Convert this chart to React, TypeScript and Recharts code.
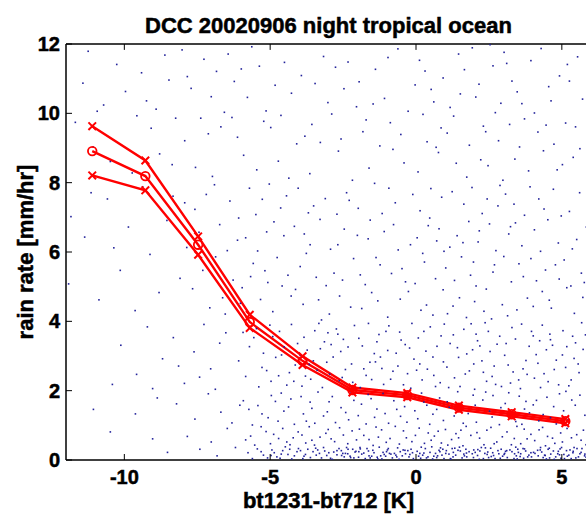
import React from "react"
import { ComposedChart, Scatter, Line, XAxis, YAxis, Label, ReferenceLine } from "recharts"

// bin centres of the three rain-rate curves
const binX = [-11.1, -9.28, -7.47, -5.7, -3.89, -2.18, -0.3, 1.47, 3.28, 5.12]
const upperRate = [9.63, 8.64, 6.45, 4.19, 2.99, 2.09, 1.93, 1.57, 1.38, 1.18]
const meanRate = [8.91, 8.19, 6.21, 3.98, 2.86, 2.02, 1.87, 1.51, 1.32, 1.12]
const lowerRate = [8.21, 7.78, 5.92, 3.81, 2.74, 1.95, 1.81, 1.45, 1.26, 1.06]

const xTicks = [-10, -5, 0, 5]
const yTicks = [0, 2, 4, 6, 8, 10, 12]

// scattered pixels, read roughly band by band (rain rate 8-12, 4-8, 2-4, 0-2)
const dotsHigh = [
  [-11.42, 10.87], [-3.17, 11.64], [2.83, 9.21], [-7.56, 8.44], [0.61, 10.33], [4.92, 11.08], [-9.08, 9.57], [-5.63, 11.92],
  [1.74, 8.16], [-0.88, 9.73], [3.47, 10.62], [-10.26, 11.41], [-6.31, 9.88], [5.39, 8.73], [-2.04, 10.19], [-8.47, 10.96],
  [0.12, 11.53], [2.16, 10.84], [-4.72, 8.62], [-1.39, 11.27], [4.18, 9.46], [-11.07, 9.03], [-7.02, 10.48], [1.29, 9.92],
  [-3.81, 9.34], [5.71, 10.41], [-9.73, 8.28], [-5.14, 10.07], [3.02, 11.76], [-0.41, 8.57], [-8.02, 11.83], [2.47, 8.49],
  [-2.66, 8.91], [4.55, 10.77], [-6.84, 11.21], [0.93, 11.02], [-4.27, 10.58], [-10.71, 10.24], [3.86, 8.34], [-1.82, 9.47],
  [5.13, 9.72], [-7.93, 9.21], [-0.03, 10.82], [2.64, 11.37], [-5.91, 8.79], [1.52, 10.56], [-3.46, 10.86], [4.37, 8.92],
  [-9.41, 11.17], [-2.33, 11.48], [0.38, 9.18], [-6.57, 10.03], [3.21, 9.68], [-8.79, 8.83], [5.54, 11.63], [-1.08, 10.43],
  [1.93, 11.89], [-4.98, 9.59], [-11.68, 9.74], [2.98, 8.07], [-7.27, 11.56], [0.77, 8.87], [-3.64, 8.26], [4.73, 9.11],
  [-5.37, 11.36], [-0.62, 11.86], [2.31, 9.63], [-9.96, 10.63], [-2.89, 9.98], [3.63, 10.28], [-6.12, 9.31], [1.07, 9.43],
  [-8.24, 9.86], [5.88, 9.34], [-4.51, 11.47], [-1.61, 8.42], [0.24, 9.97], [3.94, 11.52], [-10.48, 8.61], [-7.71, 10.72],
  [2.05, 10.47], [-3.02, 10.31], [4.06, 10.01], [-5.78, 10.46], [-0.27, 10.06], [1.38, 8.56], [-2.47, 10.71], [5.26, 10.93],
  [-6.98, 8.18], [-9.24, 10.36], [3.39, 8.68], [-1.24, 9.06], [0.52, 10.69], [-4.09, 9.12], [2.72, 10.02], [-8.61, 11.68],
  [4.84, 8.37], [-3.93, 11.09], [1.66, 11.26], [-5.46, 8.37], [-0.79, 8.96], [3.11, 11.44], [-6.69, 9.61], [5.02, 8.52],
  [-2.18, 8.07], [0.07, 8.31], [2.54, 11.98], [-7.38, 9.86], [-4.36, 8.13], [4.29, 11.87], [-1.95, 10.91], [1.17, 10.17],
  [-10.93, 10.06], [-3.28, 9.16], [3.72, 9.84], [-8.36, 8.52], [5.62, 8.98], [-0.52, 9.39], [2.22, 8.66], [-5.22, 9.77],
  [-6.44, 11.71], [0.86, 9.58], [-2.76, 11.33], [4.46, 9.66], [-9.57, 9.93], [1.83, 9.08], [-4.83, 10.81], [3.55, 9.03],
  [-1.47, 10.27], [5.47, 9.61], [-7.12, 9.41], [0.31, 11.22], [-3.57, 9.68], [2.91, 10.29], [-5.99, 11.28], [-8.91, 10.12],
  [4.63, 10.36], [-0.96, 11.61], [1.46, 11.71], [-2.57, 9.26], [3.29, 10.93], [-6.23, 10.92], [5.19, 11.41], [-11.24, 11.79],
  [-4.63, 9.94], [0.69, 9.02], [2.39, 9.47], [-1.71, 9.81], [-7.84, 11.06],
]

const dotsMid = [
  [-11.83, 7.02], [-11.91, 5.08], [-11.36, 6.43], [-10.87, 4.62], [-10.58, 7.53], [-10.14, 5.47], [-9.86, 6.72], [-9.63, 4.31],
  [-9.37, 7.88], [-9.12, 5.93], [-8.81, 4.83], [-8.54, 6.91], [-8.33, 7.61], [-8.09, 5.24], [-10.36, 6.12], [-11.14, 7.71],
  [-7.86, 6.13], [-3.42, 5.27], [1.64, 7.38], [4.57, 4.61], [-5.71, 7.84], [0.23, 5.96], [-1.86, 4.37], [3.18, 6.52],
  [-6.63, 4.68], [2.41, 4.93], [-4.17, 6.74], [5.26, 7.17], [-0.71, 7.42], [-2.93, 6.08], [1.08, 4.22], [3.94, 5.81],
  [-7.31, 5.47], [-5.08, 5.12], [0.79, 6.67], [-1.23, 5.63], [4.21, 7.53], [2.88, 7.92], [-3.87, 4.49], [-6.12, 6.34],
  [5.67, 5.39], [-0.26, 4.86], [1.97, 5.71], [-4.64, 7.27], [3.46, 4.33], [-2.38, 7.71], [-7.58, 7.23], [0.51, 7.83],
  [4.88, 6.26], [-5.43, 6.03], [-1.57, 6.92], [2.13, 6.29], [-3.11, 7.54], [5.43, 4.23], [-6.87, 5.86], [1.32, 5.18],
  [-4.39, 5.33], [3.72, 7.06], [-0.97, 4.12], [-2.62, 4.73], [4.44, 5.48], [0.04, 6.41], [-5.96, 4.97], [2.64, 5.42],
  [-3.63, 6.21], [1.81, 6.88], [-7.07, 4.39], [5.84, 6.72], [-1.42, 7.98], [3.27, 5.14], [-4.91, 4.28], [0.36, 4.47],
  [-2.14, 5.81], [4.06, 6.64], [-6.38, 7.47], [2.27, 7.11], [-3.24, 4.04], [-0.48, 5.52], [5.08, 5.77], [1.49, 4.68],
  [-5.27, 7.52], [3.63, 6.18], [-1.74, 5.06], [-4.04, 7.84], [0.67, 5.23], [2.96, 4.48], [-6.73, 6.79], [4.71, 7.81],
  [-2.81, 5.39], [1.16, 6.14], [-0.11, 7.66], [3.07, 7.67], [-5.58, 5.67], [-3.76, 5.96], [5.51, 6.36], [-1.09, 6.59],
  [2.52, 6.81], [-7.44, 6.57], [0.93, 4.91], [-4.53, 6.47], [4.33, 4.86], [-2.46, 6.66], [1.73, 4.11], [-6.27, 5.19],
  [3.82, 4.67], [-0.61, 6.06], [5.72, 4.69], [-3.29, 6.94], [2.06, 5.02], [-5.12, 6.58], [0.14, 7.19], [-1.98, 7.26],
  [4.52, 6.93], [-4.28, 4.73], [1.41, 6.47], [-6.54, 4.21], [3.36, 7.38], [-2.24, 4.41], [5.17, 4.97], [-0.36, 5.14],
  [2.74, 6.04], [-3.97, 5.58], [0.88, 7.58], [-5.84, 6.41], [4.13, 5.17], [-1.31, 4.59], [1.92, 7.86], [-7.19, 7.66],
  [3.53, 5.66], [-2.71, 7.09], [5.36, 6.09], [-0.84, 5.38], [-4.76, 5.84], [2.33, 4.29], [0.47, 6.98], [-3.51, 7.33],
  [4.91, 5.22], [-6.02, 4.52], [1.24, 7.74], [-1.64, 6.38], [3.01, 5.87], [-5.33, 4.63], [5.93, 7.49], [-2.01, 6.48],
  [0.58, 4.18], [-4.44, 7.62], [2.81, 7.33], [-0.19, 6.21], [4.64, 4.38], [-3.08, 5.03], [1.56, 5.86], [-6.91, 7.94],
  [3.91, 7.88], [-1.16, 7.11], [-5.67, 5.29], [2.17, 6.61], [-2.52, 5.19], [0.29, 5.71], [4.27, 6.02], [-3.83, 6.52],
  [1.02, 5.54], [-7.66, 4.94], [5.61, 7.71], [-0.54, 4.64], [2.59, 4.07], [-4.13, 4.92], [3.41, 6.84], [-1.91, 5.34],
  [0.71, 6.32], [-5.49, 7.08], [4.78, 5.63], [-2.97, 4.21], [1.87, 5.33], [-6.47, 6.04], [3.14, 4.16], [-0.77, 6.79],
  [5.31, 5.02], [-3.34, 4.62], [2.44, 7.53], [-4.87, 6.87], [0.96, 6.02], [-1.52, 4.83], [4.02, 4.43], [-5.18, 5.46],
  [1.27, 4.44], [3.68, 5.29], [-2.29, 7.49], [0.17, 4.32], [-6.08, 6.98], [4.98, 7.04], [-3.69, 7.13], [2.69, 5.63],
  [-0.93, 7.84], [5.77, 5.12], [-4.59, 5.02], [1.61, 6.27], [-7.93, 7.42], [3.24, 6.73], [-1.37, 5.84], [0.42, 6.76],
  [-5.03, 7.96], [2.01, 4.57], [4.39, 7.24], [-2.68, 6.21], [-0.03, 5.09],
]

const dotsLow = [
  [-10.12, 3.31], [-9.58, 2.47], [-9.21, 3.84], [-8.69, 2.92], [-8.32, 3.53], [-7.94, 2.21], [-7.61, 3.12], [-7.27, 3.91],
  [-7.04, 2.63], [-6.73, 3.37], [-10.41, 2.18], [-9.03, 2.06], [-8.14, 2.71], [-7.42, 2.39], [-6.88, 2.04], [-6.52, 3.67],
  [-5.84, 2.41], [-1.27, 3.62], [2.73, 2.18], [4.61, 3.47], [-3.52, 2.86], [0.34, 3.14], [-4.68, 3.71], [1.83, 2.57],
  [5.42, 2.93], [-2.17, 2.24], [3.29, 3.82], [-0.62, 2.71], [-5.23, 3.08], [2.11, 3.44], [-3.91, 2.13], [4.06, 2.36],
  [0.97, 3.92], [-1.84, 3.29], [5.81, 3.61], [-4.34, 2.52], [1.46, 2.96], [-2.73, 3.78], [3.67, 2.63], [-0.18, 2.07],
  [-5.56, 3.53], [2.48, 3.71], [-3.14, 3.41], [4.89, 2.17], [0.61, 2.44], [-1.58, 2.82], [3.04, 3.02], [-4.97, 2.27],
  [1.17, 3.36], [-2.42, 2.61], [5.17, 3.27], [-0.93, 3.87], [-3.73, 3.17], [2.26, 2.86], [4.33, 3.89], [-6.08, 2.86],
  [0.08, 3.52], [-1.11, 2.18], [3.52, 2.31], [-4.52, 3.26], [1.64, 3.77], [-2.96, 2.48], [5.59, 2.52], [-0.37, 3.33],
  [2.87, 3.57], [-5.39, 2.11], [-3.33, 3.94], [4.18, 2.79], [0.83, 2.23], [-1.96, 3.51], [3.88, 3.28], [-4.14, 2.74],
  [1.32, 2.37], [-2.58, 3.13], [5.04, 3.73], [-0.79, 2.56], [2.01, 2.04], [-3.61, 2.33], [4.74, 2.61], [0.49, 3.84],
  [-1.43, 3.07], [3.16, 2.74], [-5.01, 3.89], [1.94, 3.18], [-2.28, 2.03], [5.32, 2.31], [-0.07, 2.91], [-4.81, 2.96],
  [2.61, 2.41], [-3.02, 3.67], [4.47, 3.18], [0.21, 2.31], [-1.71, 2.44], [3.41, 3.49], [-5.71, 3.27], [1.06, 2.68],
  [-2.84, 2.97], [5.68, 3.96], [-0.51, 3.46], [2.37, 3.96], [-3.84, 3.54], [4.27, 2.09], [0.72, 3.28], [-1.03, 3.71],
  [3.77, 2.87], [-4.27, 3.91], [1.51, 2.12], [-2.11, 3.88], [5.13, 2.67], [-0.29, 2.49], [-5.28, 2.67], [2.93, 2.12],
  [-3.39, 2.59], [4.59, 3.63], [0.39, 2.62], [-1.63, 3.94], [3.09, 3.36], [-4.71, 2.43], [1.74, 3.06], [-2.49, 3.48],
  [5.47, 3.38], [-0.87, 2.33], [2.19, 3.29], [-3.97, 3.02], [4.02, 3.58], [0.94, 2.83], [-1.22, 2.97], [3.58, 2.06],
  [-4.43, 2.16], [1.28, 3.61], [-2.63, 2.29], [5.89, 2.44], [-0.14, 3.94], [-5.47, 3.79], [2.54, 3.13], [-3.21, 2.09],
  [4.81, 2.88], [0.58, 2.97], [-1.79, 2.63], [3.33, 2.54], [-4.06, 3.36], [1.98, 2.77], [-2.33, 3.26], [5.24, 2.14],
  [-0.68, 3.08], [2.78, 3.34], [-3.66, 2.76], [4.39, 2.49], [0.13, 2.77], [-1.34, 3.41], [3.96, 3.71], [-5.12, 2.58],
  [1.42, 3.24], [-2.91, 3.33], [5.56, 2.77], [-0.43, 2.17], [2.31, 2.53], [-3.47, 3.73], [4.12, 3.04], [0.86, 3.58],
  [-1.91, 2.09], [3.62, 3.92], [-4.61, 3.03], [1.12, 2.09], [-2.21, 2.77], [5.02, 3.03], [-0.97, 3.16], [2.68, 2.71],
  [-3.79, 2.42], [4.68, 3.31], [0.27, 3.71], [-1.52, 2.32], [3.24, 2.22], [-4.91, 3.56], [1.69, 2.48], [-2.68, 3.63],
  [5.73, 3.19], [-0.22, 3.23], [2.06, 3.63], [-3.06, 2.82], [4.24, 3.44], [0.67, 2.12], [-1.17, 2.64], [3.81, 2.47],
  [-4.19, 2.27], [1.89, 3.93], [-2.53, 2.38], [5.37, 3.57], [-0.56, 3.69], [-5.93, 3.68], [2.42, 2.27], [-3.28, 3.21],
  [4.53, 2.26], [0.02, 2.59], [-1.39, 2.83],
]

const dotsBase = [
  [-8.21, 1.62], [-7.58, 1.18], [-7.12, 1.91], [-6.69, 1.38], [-6.31, 1.07], [-7.84, 0.68], [-7.02, 0.52], [-6.47, 0.91],
  [-9.03, 0.61], [-8.52, 0.22], [-7.41, 0.31], [-6.82, 0.12], [-6.19, 0.36], [-9.62, 1.33], [-10.48, 0.81], [-8.87, 1.79],
  [-11.06, 1.46], [-6.04, 1.58],
  [-5.92, 1.71], [-1.42, 1.23], [2.64, 1.86], [4.81, 1.04], [-3.57, 1.49], [0.27, 1.67], [-4.73, 1.12], [1.79, 1.34],
  [5.46, 1.58], [-2.22, 1.94], [3.31, 1.21], [-0.66, 1.46], [-5.28, 1.33], [2.07, 1.09], [-3.94, 1.83], [4.13, 1.72],
  [0.94, 1.14], [-1.87, 1.61], [5.79, 1.29], [-4.37, 1.53], [1.43, 1.97], [-2.76, 1.08], [3.72, 1.47], [-0.21, 1.88],
  [-5.61, 1.01], [2.52, 1.41], [-3.17, 1.27], [4.92, 1.91], [0.58, 1.32], [-1.54, 1.77], [3.06, 1.63], [-4.96, 1.86],
  [1.14, 1.52], [-2.41, 1.37], [5.21, 1.16], [-0.94, 1.06], [-3.76, 1.12], [2.29, 1.73], [4.36, 1.31], [0.06, 1.19],
  [-1.13, 1.92], [3.54, 1.84], [-4.53, 1.41], [1.62, 1.06], [-2.98, 1.68], [5.62, 1.87], [-0.39, 1.54], [2.86, 1.02],
  [-5.42, 1.57], [-3.36, 1.96], [4.21, 1.13], [0.81, 1.79], [-1.98, 1.28], [3.89, 1.36], [-4.17, 1.03], [1.31, 1.27],
  [-2.57, 1.51], [5.06, 1.42], [-0.76, 1.71], [2.03, 1.58], [-3.63, 1.67], [4.72, 1.54], [0.47, 1.03], [-1.34, 1.47],
  [3.18, 1.94], [-5.07, 1.22], [1.96, 1.87], [-2.31, 1.16], [5.34, 1.73], [-0.04, 1.42], [-4.82, 1.69], [2.61, 1.24],
  [-3.04, 1.39], [4.49, 1.81], [0.19, 1.93], [-1.71, 1.04], [3.42, 1.11], [-5.73, 1.46], [1.07, 1.68], [-2.87, 1.83],
  [5.87, 1.61], [-0.53, 1.26], [2.39, 1.96], [-3.86, 1.33], [4.02, 1.59], [0.71, 1.46], [-1.06, 1.34], [3.77, 1.69],
  [-4.29, 1.76], [1.51, 1.62], [-2.13, 1.72], [5.14, 1.98], [-0.31, 1.09], [-3.47, 1.06], [2.91, 1.51], [4.61, 1.22],
  [0.37, 1.58], [-1.64, 1.89], [3.63, 1.03], [-4.62, 1.93],
  [-5.53, 0.43], [-1.18, 0.87], [2.77, 0.52], [4.34, 0.94], [-3.29, 0.66], [0.42, 0.78], [-4.57, 0.91], [1.61, 0.41],
  [5.51, 0.73], [-2.04, 0.58], [3.46, 0.97], [-0.57, 0.46], [-5.14, 0.82], [2.18, 0.63], [-3.78, 0.49], [4.07, 0.56],
  [1.01, 0.88], [-1.79, 0.71], [5.83, 0.44], [-4.21, 0.64], [1.37, 0.76], [-2.62, 0.93], [3.81, 0.61], [-0.14, 0.53],
  [-5.84, 0.58], [2.43, 0.86], [-3.09, 0.77], [4.76, 0.48], [0.63, 0.69], [-1.47, 0.42], [3.12, 0.81], [-4.88, 0.74],
  [1.22, 0.59], [-2.34, 0.47], [5.18, 0.91], [-0.89, 0.62], [-3.66, 0.96], [2.33, 0.44], [4.51, 0.68], [0.11, 0.92],
  [-1.02, 0.51], [3.59, 0.47], [-4.43, 0.52], [1.72, 0.97], [-2.91, 0.61], [5.66, 0.57], [-0.43, 0.84], [2.96, 0.67],
  [-5.31, 0.96], [-3.48, 0.43], [4.22, 0.87], [0.87, 0.49], [-1.94, 0.89], [3.94, 0.74], [-4.04, 0.81], [1.46, 0.64],
  [-2.49, 0.72], [5.02, 0.52], [-0.71, 0.97], [2.09, 0.79], [-3.57, 0.57], [4.68, 0.63], [0.52, 0.57], [-1.29, 0.66],
  [3.27, 0.44], [-4.99, 0.47], [1.88, 0.71], [-2.19, 0.84], [5.33, 0.64], [-0.02, 0.71], [-4.71, 0.62], [2.57, 0.94],
  [-3.01, 0.88], [4.44, 0.41], [0.29, 0.48], [-1.61, 0.59], [3.37, 0.62], [-5.67, 0.69], [1.09, 0.43], [-2.79, 0.53],
  [5.74, 0.86], [-0.33, 0.64], [2.68, 0.47], [-3.91, 0.72], [4.96, 0.78], [0.76, 0.83], [-1.37, 0.95], [3.71, 0.89],
  [-4.32, 0.44], [1.54, 0.86],
]

// the nearly solid strip just above zero
const dotsFloor = [
  [-5.76, 0.21], [-1.33, 0.08], [2.81, 0.27], [4.43, 0.13], [-3.44, 0.34], [0.16, 0.05], [-4.62, 0.17], [1.71, 0.31],
  [5.57, 0.09], [-2.09, 0.23], [3.36, 0.04], [-0.74, 0.19], [-5.09, 0.06], [2.24, 0.36], [-3.84, 0.11], [4.17, 0.28],
  [0.89, 0.14], [-1.91, 0.32], [5.86, 0.24], [-4.26, 0.03], [1.28, 0.22], [-2.71, 0.15], [3.67, 0.33], [-0.28, 0.27],
  [-5.44, 0.32], [2.49, 0.07], [-3.13, 0.26], [4.86, 0.18], [0.54, 0.38], [-1.52, 0.11], [3.02, 0.16], [-4.94, 0.29],
  [1.19, 0.03], [-2.38, 0.36], [5.24, 0.14], [-0.98, 0.29], [-3.62, 0.07], [2.36, 0.19], [4.58, 0.06], [0.04, 0.25],
  [-1.09, 0.16], [3.51, 0.22], [-4.48, 0.38], [1.66, 0.12], [-2.93, 0.05], [5.69, 0.33], [-0.47, 0.12], [2.92, 0.31],
  [-5.23, 0.14], [-3.31, 0.19], [4.27, 0.36], [0.79, 0.28], [-1.74, 0.04], [3.96, 0.09], [-4.08, 0.24], [1.49, 0.37],
  [-2.56, 0.27], [5.09, 0.04], [-0.63, 0.35], [2.11, 0.13], [-3.71, 0.31], [4.71, 0.26], [0.41, 0.09], [-1.26, 0.37],
  [3.22, 0.29], [-4.77, 0.09], [1.93, 0.18], [-2.26, 0.11], [5.38, 0.21], [-0.09, 0.04], [-4.39, 0.16], [2.63, 0.21],
  [-3.06, 0.13], [4.36, 0.07], [0.32, 0.33], [-1.63, 0.26], [3.44, 0.12], [-5.61, 0.04], [1.04, 0.27], [-2.82, 0.23],
  [5.78, 0.12], [-0.36, 0.18], [2.71, 0.04], [-3.96, 0.27], [4.94, 0.32], [0.67, 0.19], [-1.17, 0.03], [3.76, 0.26],
  [-4.17, 0.12], [1.58, 0.06], [-2.17, 0.31], [5.16, 0.27], [-0.81, 0.06], [2.19, 0.26], [-3.53, 0.24], [4.62, 0.17],
  [0.23, 0.14], [-1.44, 0.21], [3.13, 0.07], [-4.57, 0.27], [1.82, 0.24], [-2.46, 0.09], [5.48, 0.06], [-0.54, 0.24],
  [2.44, 0.16], [-3.24, 0.06], [4.08, 0.19], [0.96, 0.04], [-1.86, 0.17], [3.59, 0.18], [-4.86, 0.21], [1.36, 0.14],
  [-2.64, 0.33], [5.93, 0.07], [-0.17, 0.31], [2.97, 0.11], [-3.37, 0.29], [4.53, 0.31], [0.61, 0.11], [-1.01, 0.24],
  [3.87, 0.14], [-4.33, 0.31], [1.13, 0.17], [-2.34, 0.18], [5.28, 0.29], [-0.69, 0.14], [2.56, 0.34], [-3.79, 0.16],
  [4.79, 0.09], [0.13, 0.19], [-1.57, 0.06], [3.29, 0.24], [-5.31, 0.24], [1.74, 0.09], [-2.99, 0.21], [5.62, 0.18],
  [-0.24, 0.09], [2.31, 0.04], [-3.88, 0.04], [4.31, 0.23], [0.84, 0.35], [-1.21, 0.12], [3.69, 0.05], [-4.03, 0.33],
  [1.44, 0.28], [-2.13, 0.06], [5.07, 0.16], [-0.91, 0.19], [2.84, 0.18], [-3.17, 0.36], [4.97, 0.05], [0.48, 0.22],
  [-1.96, 0.24], [3.49, 0.31], [-4.66, 0.05], [1.98, 0.29], [-2.51, 0.19], [5.42, 0.36], [-0.44, 0.29], [2.03, 0.22],
  [-3.42, 0.14], [4.19, 0.12], [0.71, 0.07], [-1.68, 0.33], [3.07, 0.25], [-4.97, 0.13], [1.24, 0.33],
  [-2.87, 0.02], [-2.42, 0.19], [-1.97, 0.08], [-1.48, 0.28], [-1.04, 0.11], [-0.58, 0.02], [-0.12, 0.21], [0.36, 0.06],
  [0.82, 0.24], [1.27, 0.09], [1.73, 0.2], [2.17, 0.02], [2.66, 0.13], [3.11, 0.27], [3.57, 0.1], [4.03, 0.22],
  [4.47, 0.03], [4.92, 0.15], [5.39, 0.25], [5.83, 0.08], [-2.71, 0.27], [-2.24, 0.07], [-1.79, 0.2], [-1.31, 0.03],
  [-0.86, 0.17], [-0.38, 0.28], [0.09, 0.11], [0.57, 0.03], [1.02, 0.19], [1.52, 0.26], [1.97, 0.07], [2.46, 0.23],
  [2.89, 0.05], [3.38, 0.18], [3.83, 0.09], [4.26, 0.29], [4.74, 0.02], [5.19, 0.11], [5.66, 0.22], [-2.55, 0.13],
  [-2.06, 0.25], [-1.61, 0.12], [-1.13, 0.22], [-0.66, 0.09], [-0.21, 0.16], [0.27, 0.2], [0.74, 0.12], [1.18, 0.04],
  [1.64, 0.17], [2.12, 0.3], [2.58, 0.1], [3.04, 0.19], [3.47, 0.03], [3.94, 0.21], [4.41, 0.14], [4.88, 0.25],
  [5.32, 0.04], [5.79, 0.17], [-1.92, 0.36], [-0.95, 0.33], [0.18, 0.37], [1.33, 0.34], [2.38, 0.35], [3.42, 0.37],
  [4.57, 0.34], [5.52, 0.33], [-2.33, 0.31], [0.92, 0.31], [3.72, 0.32], [4.99, 0.36],
]

const scatterPoints = [...dotsHigh, ...dotsMid, ...dotsLow, ...dotsBase, ...dotsFloor].map(([x, y]) => ({ x, y }))

const curveRows = binX.map((x, i) => ({
  x,
  upper: upperRate[i],
  mean: meanRate[i],
  lower: lowerRate[i],
}))

const FONT = "'Liberation Sans', Arial, Helvetica, sans-serif"
const RED = "#ff0000"
const boldText = {
  fontFamily: FONT,
  fontWeight: "bold" as const,
  fill: "#000",
  stroke: "#000",
  strokeWidth: 0.5,
}

const PixelDot = (props: any) => {
  const { cx, cy } = props
  if (cx == null || cy == null) return null
  return <rect x={cx - 0.8} y={cy - 0.8} width={1.6} height={1.6} fill="#22229a" />
}

const CrossMark = (props: any) => {
  const { cx, cy, index } = props
  if (cx == null || cy == null) return null
  const s = 3.8
  return (
    <path
      key={`x-${index}`}
      d={`M${cx - s},${cy - s}L${cx + s},${cy + s}M${cx - s},${cy + s}L${cx + s},${cy - s}`}
      stroke={RED}
      strokeWidth={2}
      fill="none"
    />
  )
}

const CircleMark = (props: any) => {
  const { cx, cy, index } = props
  if (cx == null || cy == null) return null
  return <circle key={`o-${index}`} cx={cx} cy={cy} r={4.3} stroke={RED} strokeWidth={1.8} fill="none" />
}

const BottomTick = ({ x, y, payload }: any) => (
  <g>
    <line x1={x} y1={y} x2={x} y2={y - 6} stroke="#000" strokeWidth={1} />
    <text x={x} y={y + 24} textAnchor="middle" fontSize={20} {...boldText}>
      {payload.value}
    </text>
  </g>
)

const LeftTick = ({ x, y, payload }: any) => (
  <g>
    <line x1={x} y1={y} x2={x + 6} y2={y} stroke="#000" strokeWidth={1} />
    <text x={x - 6} y={y + 7} textAnchor="end" fontSize={20} {...boldText}>
      {payload.value}
    </text>
  </g>
)

export default function App() {
  return (
    <div
      style={{
        position: "fixed",
        left: 0,
        top: 0,
        width: 586,
        height: 514,
        overflow: "hidden",
        background: "#fff",
      }}
    >
      <ComposedChart width={600} height={514} data={curveRows} margin={{ top: 44, right: 9, bottom: 0, left: 20 }}>
        <XAxis
          dataKey="x"
          type="number"
          domain={[-12, 6]}
          ticks={xTicks}
          allowDataOverflow
          height={54}
          tickSize={0}
          tickMargin={0}
          tickLine={false}
          tick={<BottomTick />}
          axisLine={{ stroke: "#000", strokeWidth: 1.5 }}
        >
          <Label
            content={({ viewBox }: any) => (
              <g>
                <text x={viewBox.x + viewBox.width / 2} y={viewBox.y + 48} textAnchor="middle" fontSize={22} {...boldText}>
                  bt1231-bt712 [K]
                </text>
                <text x={viewBox.x + viewBox.width / 2} y={33} textAnchor="middle" fontSize={22} {...boldText}>
                  DCC 20020906 night tropical ocean
                </text>
              </g>
            )}
          />
        </XAxis>
        <YAxis
          dataKey="y"
          type="number"
          domain={[0, 12]}
          ticks={yTicks}
          allowDataOverflow
          width={46}
          tickSize={0}
          tickMargin={0}
          tickLine={false}
          tick={<LeftTick />}
          axisLine={{ stroke: "#000", strokeWidth: 1.5 }}
        >
          <Label
            content={({ viewBox }: any) => {
              const cy = viewBox.y + viewBox.height / 2
              return (
                <text x={33} y={cy} transform={`rotate(-90 33 ${cy})`} textAnchor="middle" fontSize={22} {...boldText}>
                  rain rate [mm/hr]
                </text>
              )
            }}
          />
        </YAxis>
        <Scatter data={scatterPoints} shape={<PixelDot />} isAnimationActive={false} />
        {/* top frame of the axes box, with inward ticks */}
        <ReferenceLine y={12} stroke="#000" strokeWidth={1.5} ifOverflow="visible" />
        {xTicks.map((t) => (
          <ReferenceLine
            key={`top-${t}`}
            segment={[
              { x: t, y: 12 },
              { x: t, y: 11.83 },
            ]}
            stroke="#000"
            strokeWidth={1}
            ifOverflow="visible"
          />
        ))}
        <Line dataKey="upper" stroke={RED} strokeWidth={2.4} dot={<CrossMark />} activeDot={false} isAnimationActive={false} />
        <Line dataKey="mean" stroke={RED} strokeWidth={2.4} dot={<CircleMark />} activeDot={false} isAnimationActive={false} />
        <Line dataKey="lower" stroke={RED} strokeWidth={2.4} dot={<CrossMark />} activeDot={false} isAnimationActive={false} />
      </ComposedChart>
    </div>
  )
}
